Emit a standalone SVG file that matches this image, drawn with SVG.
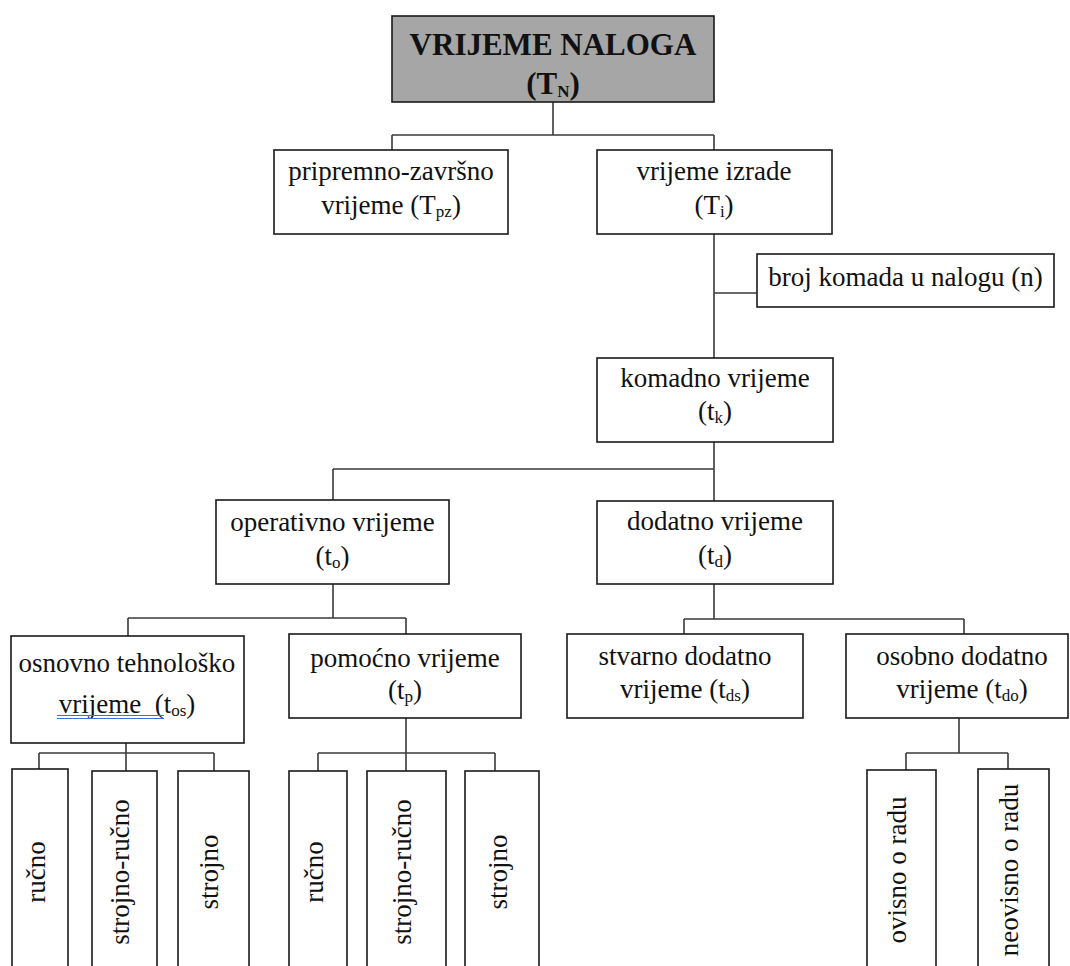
<svg xmlns="http://www.w3.org/2000/svg" width="1070" height="966" viewBox="0 0 1070 966">
<style>
.bx{fill:#fff;stroke:#1a1a1a;stroke-width:1.6}
.tt{font-family:"Liberation Serif","Times New Roman",serif;font-size:27px;fill:#111;text-anchor:middle}
.ti{font-family:"Liberation Serif","Times New Roman",serif;font-size:31px;font-weight:bold;fill:#111;text-anchor:middle}
.sb{font-size:17px}
.cn{fill:none;stroke:#3a3a3a;stroke-width:1.6}
</style>
<rect width="1070" height="966" fill="#fff"/>
<g id="connectors" class="cn">
<path d="M553,102V135M392,135H714M392,135V150M714,135V150"/>
<path d="M714,234V358M714,293H757"/>
<path d="M714,442V501M333,469H714M333,469V500"/>
<path d="M333,584V618M128,618H406M128,618V636M406,618V634"/>
<path d="M714,584V619M684,619H964M684,619V634M964,619V634"/>
<path d="M126,743V775M39,753H214M39,753V769M214,753V771"/>
<path d="M406,718V771M318,753H495M318,753V771M495,753V771"/>
<path d="M959,718V753M906,753H1008M906,753V770M1008,753V769"/>
</g>
<g id="n-vrijeme-naloga">
<rect x="392" y="16" width="322" height="86" fill="#a6a6a6" stroke="#1a1a1a" stroke-width="1.6"/>
<text class="ti" x="553" y="55">VRIJEME NALOGA</text>
<text class="ti" x="553" y="94">(T<tspan class="sb" font-size="20" dy="3">N</tspan><tspan dy="-3">)</tspan></text>
</g>
<g id="n-pripremno">
<rect class="bx" x="274" y="150" width="234" height="84"/>
<text class="tt" x="391" y="180">pripremno-završno</text>
<text class="tt" x="391" y="214">vrijeme (T<tspan class="sb" dy="3">pz</tspan><tspan dy="-3">)</tspan></text>
</g>
<g id="n-izrade">
<rect class="bx" x="597" y="150" width="235" height="84"/>
<text class="tt" x="714" y="180">vrijeme izrade</text>
<text class="tt" x="714" y="214">(T<tspan class="sb" dy="3">i</tspan><tspan dy="-3">)</tspan></text>
</g>
<g id="n-broj">
<rect class="bx" x="757" y="254" width="297" height="53"/>
<text class="tt" x="905.5" y="286">broj komada u nalogu (n)</text>
</g>
<g id="n-komadno">
<rect class="bx" x="597" y="358" width="236" height="84"/>
<text class="tt" x="715" y="387">komadno vrijeme</text>
<text class="tt" x="715" y="420">(t<tspan class="sb" dy="3">k</tspan><tspan dy="-3">)</tspan></text>
</g>
<g id="n-operativno">
<rect class="bx" x="216" y="500" width="233" height="84"/>
<text class="tt" x="332.5" y="531">operativno vrijeme</text>
<text class="tt" x="332.5" y="565">(t<tspan class="sb" dy="3">o</tspan><tspan dy="-3">)</tspan></text>
</g>
<g id="n-dodatno">
<rect class="bx" x="597" y="501" width="236" height="83"/>
<text class="tt" x="715" y="530">dodatno vrijeme</text>
<text class="tt" x="715" y="564">(t<tspan class="sb" dy="3">d</tspan><tspan dy="-3">)</tspan></text>
</g>
<g id="n-osnovno">
<rect class="bx" x="11" y="636" width="233" height="107"/>
<text class="tt" x="127" y="672">osnovno tehnološko</text>
<text class="tt" x="127" y="713" xml:space="preserve">vrijeme  (t<tspan class="sb" dy="3">os</tspan><tspan dy="-3">)</tspan></text>
<path d="M57,715.5H164M57,718.5H164" stroke="#3d6fd6" stroke-width="1.2" fill="none"/>
</g>
<g id="n-pomocno">
<rect class="bx" x="289" y="634" width="232" height="84"/>
<text class="tt" x="405" y="667">pomoćno vrijeme</text>
<text class="tt" x="405" y="699">(t<tspan class="sb" dy="3">p</tspan><tspan dy="-3">)</tspan></text>
</g>
<g id="n-stvarno">
<rect class="bx" x="567" y="634" width="236" height="84"/>
<text class="tt" x="685" y="665">stvarno dodatno</text>
<text class="tt" x="685" y="698">vrijeme (t<tspan class="sb" dy="3">ds</tspan><tspan dy="-3">)</tspan></text>
</g>
<g id="n-osobno">
<rect class="bx" x="846" y="634" width="222" height="84"/>
<text class="tt" x="962" y="665">osobno dodatno</text>
<text class="tt" x="962" y="698">vrijeme (t<tspan class="sb" dy="3">do</tspan><tspan dy="-3">)</tspan></text>
</g>
<g id="n-os-rucno">
<rect class="bx" x="12" y="769" width="56" height="230"/>
<text class="tt" transform="translate(45,872) rotate(-90)">ručno</text>
</g>
<g id="n-os-strojno-rucno">
<rect class="bx" x="92" y="771" width="65" height="230"/>
<text class="tt" transform="translate(129,872) rotate(-90)">strojno-ručno</text>
</g>
<g id="n-os-strojno">
<rect class="bx" x="178" y="771" width="71" height="230"/>
<text class="tt" transform="translate(218,872) rotate(-90)">strojno</text>
</g>
<g id="n-po-rucno">
<rect class="bx" x="289" y="771" width="58" height="230"/>
<text class="tt" transform="translate(323,872) rotate(-90)">ručno</text>
</g>
<g id="n-po-strojno-rucno">
<rect class="bx" x="367" y="771" width="79" height="230"/>
<text class="tt" transform="translate(411,872) rotate(-90)">strojno-ručno</text>
</g>
<g id="n-po-strojno">
<rect class="bx" x="465" y="771" width="74" height="230"/>
<text class="tt" transform="translate(507,872) rotate(-90)">strojno</text>
</g>
<g id="n-ovisno">
<rect class="bx" x="867" y="770" width="69" height="230"/>
<text class="tt" transform="translate(906,870) rotate(-90)">ovisno o radu</text>
</g>
<g id="n-neovisno">
<rect class="bx" x="978" y="769" width="71" height="230"/>
<text class="tt" transform="translate(1018,870) rotate(-90)">neovisno o radu</text>
</g>
</svg>
